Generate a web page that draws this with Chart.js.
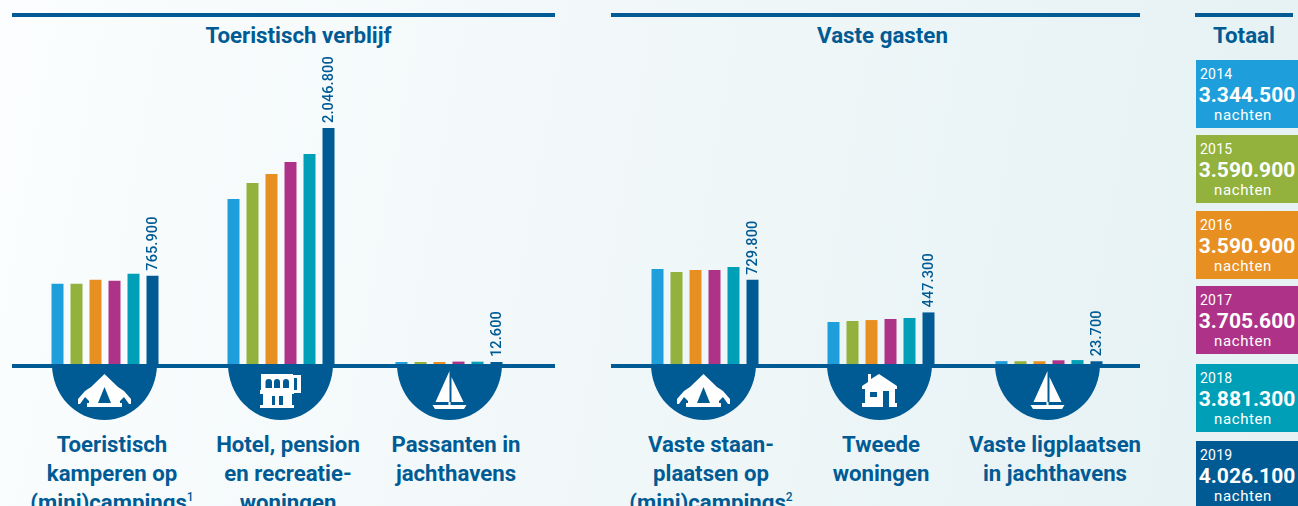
<!DOCTYPE html>
<html lang="nl">
<head>
<meta charset="utf-8">
<script src="https://cdn.jsdelivr.net/npm/chart.js@4/dist/chart.umd.min.js"></script>
<style>
  html, body { margin: 0; padding: 0; }
  body {
    position: relative; width: 1298px; height: 506px; overflow: hidden;
    background: linear-gradient(100deg, #fbfdfe 0%, #e5f1f3 100%);
    font-family: Roboto, sans-serif; color: #005b94;
  }
  .rule { position: absolute; height: 4px; background: #005b94; }
  .head { position: absolute; top: 22px; font-size: 22.3px; line-height: 26px; font-weight: 700; transform: translateX(-50%); white-space: nowrap; }
  .group { position: absolute; top: 0; width: 114px; height: 364px; }
  .bowl { position: absolute; top: 364px; width: 105px; height: 56px; background: #005b94; border-radius: 0 0 52.5px 52.5px / 0 0 56px 56px; }
  .bowl svg { position: absolute; left: 0; top: 0; width: 105px; height: 56px; fill: #fff; }
  .label { position: absolute; top: 430px; font-size: 22.2px; line-height: 29px; font-weight: 700; text-align: center; transform: translateX(-50%); white-space: nowrap; }
  .label sup { font-size: 12px; line-height: 0; vertical-align: 9px; font-weight: 500; }
  .tile { position: absolute; left: 1196px; width: 102px; height: 68px; color: #fff; overflow: hidden; }
  .tile .y { position: absolute; left: 4px; top: 6px; font-size: 14px; line-height: 16px; letter-spacing: .2px; }
  .tile .v { position: absolute; left: 0; width: 102px; text-align: center; top: 22px; font-size: 21px; line-height: 26px; font-weight: 700; letter-spacing: 0; }
  .tile .n { position: absolute; left: 0; width: 94px; text-align: center; top: 47px; font-size: 15px; line-height: 17px; letter-spacing: .6px; }
</style>
</head>
<body>
<div id="page"></div>
<script>
const years = ['2014', '2015', '2016', '2017', '2018', '2019'];
const colors = ['#1e9fdb', '#92b13d', '#e88f21', '#ae3388', '#009fb8', '#005b94'];

// only the 2019 bars have a printed value
const kamperen = [695000, 695000, 730000, 721000, 782000, 765900];
const hotel = [1431000, 1570000, 1648000, 1752000, 1821000, 2046800];
const passanten = [12000, 11000, 12000, 21000, 20000, 12600];
const staanplaatsen = [824000, 798000, 815000, 815000, 841000, 729800];
const tweede = [364000, 373000, 381000, 390000, 399000, 447300];
const ligplaatsen = [25000, 24000, 24000, 32000, 34000, 23700];

const totals = ['3.344.500', '3.590.900', '3.590.900', '3.705.600', '3.881.300', '4.026.100'];
const tileTops = [60, 135, 211, 286, 364, 441];

// px per night, so all six small charts share one scale
const nightsPerPx = 8670;

const icons = {
  tent: '<path fill-rule="evenodd" d="M52.5 10 L66 23 L72 27 L79 35 V40 H77 L72 33 L68 37 V39 H70 V43 H35 V39 H37 V37 L33 33 L28 40 H26 V35 L33 27 L39 23 Z M52.5 23 L46 39 H59 Z"/>',
  hotel: '<path fill-rule="evenodd" d="M33 10 H65 V11 H73 V29 H66 V30 H64 V41 H66 V44 H32 V41 H35 V30 H32 V26 H33 Z M37.5 24 V18 A3.25 3 0 0 1 44 18 V24 Z M46 24 V18 A3 3 0 0 1 52 18 V24 Z M55 24 V18 A3 3 0 0 1 61 18 V24 Z M66 14 V26 H69 V14 Z M44 32 V41 H47 V32 Z M51 32 V41 H55 V32 Z"/>',
  boat: '<path d="M52.5 7 V38 H38.5 Z M54.5 13 L66.5 38 H54.5 Z M51.5 38 H53.5 V41 H69.5 L67 45 H38 L35.5 41 H51.5 Z"/>',
  house: '<path fill-rule="evenodd" d="M41 10 H44 V15 L52 10 L70 22 V25 H68 V39 H70 V43 H35 V39 H38 V25 H35 V22 L41 18 Z M43 28 V33 H50 V28 Z M56 27 V43 H62 V27 Z"/>'
};

const panels = [
  { title: 'Toeristisch verblijf', x: 298.5, from: 12, to: 555 },
  { title: 'Vaste gasten', x: 882.5, from: 611, to: 1140 }
];

const groups = [
  { values: kamperen, label: 'Toeristisch<br>kamperen op<br>(mini)campings<sup>1</sup>', icon: 'tent', left: 51, bowl: 52, text: 112 },
  { values: hotel, label: 'Hotel, pension<br>en recreatie-<br>woningen', icon: 'hotel', left: 227, bowl: 228, text: 288 },
  { values: passanten, label: 'Passanten in<br>jachthavens', icon: 'boat', left: 395, bowl: 396.5, text: 456 },
  { values: staanplaatsen, label: 'Vaste staan-<br>plaatsen op<br>(mini)campings<sup>2</sup>', icon: 'tent', left: 651, bowl: 651, text: 711 },
  { values: tweede, label: 'Tweede<br>woningen', icon: 'house', left: 827, bowl: 827, text: 881 },
  { values: ligplaatsen, label: 'Vaste ligplaatsen<br>in jachthavens', icon: 'boat', left: 995, bowl: 995, text: 1055 }
];

const page = document.getElementById('page');

const add = (cls, css, html) => {
  const el = document.createElement('div');
  el.className = cls;
  el.style.cssText = css;
  el.innerHTML = html || '';
  page.appendChild(el);
  return el;
};

panels.forEach((p) => {
  const width = p.to - p.from;
  add('rule', `left:${p.from}px;top:13px;width:${width}px`);
  add('rule', `left:${p.from}px;top:363.5px;width:${width}px`);
  add('head', `left:${p.x}px`, p.title);
});
add('rule', 'left:1195px;top:13px;width:98px');
add('head', 'left:1244px', 'Totaal');

// the printed 2019 value stands rotated above the last bar
const lastBarLabel = {
  id: 'lastBarLabel',
  afterDatasetsDraw(chart) {
    const bar = chart.getDatasetMeta(0).data[5];
    const value = chart.data.datasets[0].data[5];
    const { ctx } = chart;
    ctx.save();
    ctx.translate(bar.x + 1, bar.y - 5);
    ctx.rotate(-Math.PI / 2);
    ctx.font = '500 14.5px Roboto';
    ctx.letterSpacing = '0.1px';
    ctx.fillStyle = '#005b94';
    ctx.textAlign = 'left';
    ctx.textBaseline = 'middle';
    ctx.fillText(value.toLocaleString('nl-NL'), 0, 0);
    ctx.restore();
  }
};

groups.forEach((g) => {
  const box = add('group', `left:${g.left - 3}px`, '<canvas width="114" height="364"></canvas>');
  add('bowl', `left:${g.bowl}px`, `<svg viewBox="0 0 105 56">${icons[g.icon]}</svg>`);
  add('label', `left:${g.text}px`, g.label);

  new Chart(box.querySelector('canvas'), {
    type: 'bar',
    data: {
      labels: years,
      datasets: [{
        data: g.values,
        backgroundColor: colors,
        categoryPercentage: 1,
        barPercentage: 12 / 19,
        minBarLength: 2
      }]
    },
    options: {
      responsive: false,
      animation: false,
      layout: { padding: 0 },
      plugins: { legend: { display: false }, tooltip: { enabled: false } },
      scales: {
        x: { display: false },
        y: { display: false, min: 0, max: 364 * nightsPerPx }
      }
    },
    plugins: [lastBarLabel]
  });
});

years.forEach((year, i) => {
  add('tile', `top:${tileTops[i]}px;background:${colors[i]}`,
    `<div class="y">${year}</div><div class="v">${totals[i]}</div><div class="n">nachten</div>`);
});
</script>
</body>
</html>
